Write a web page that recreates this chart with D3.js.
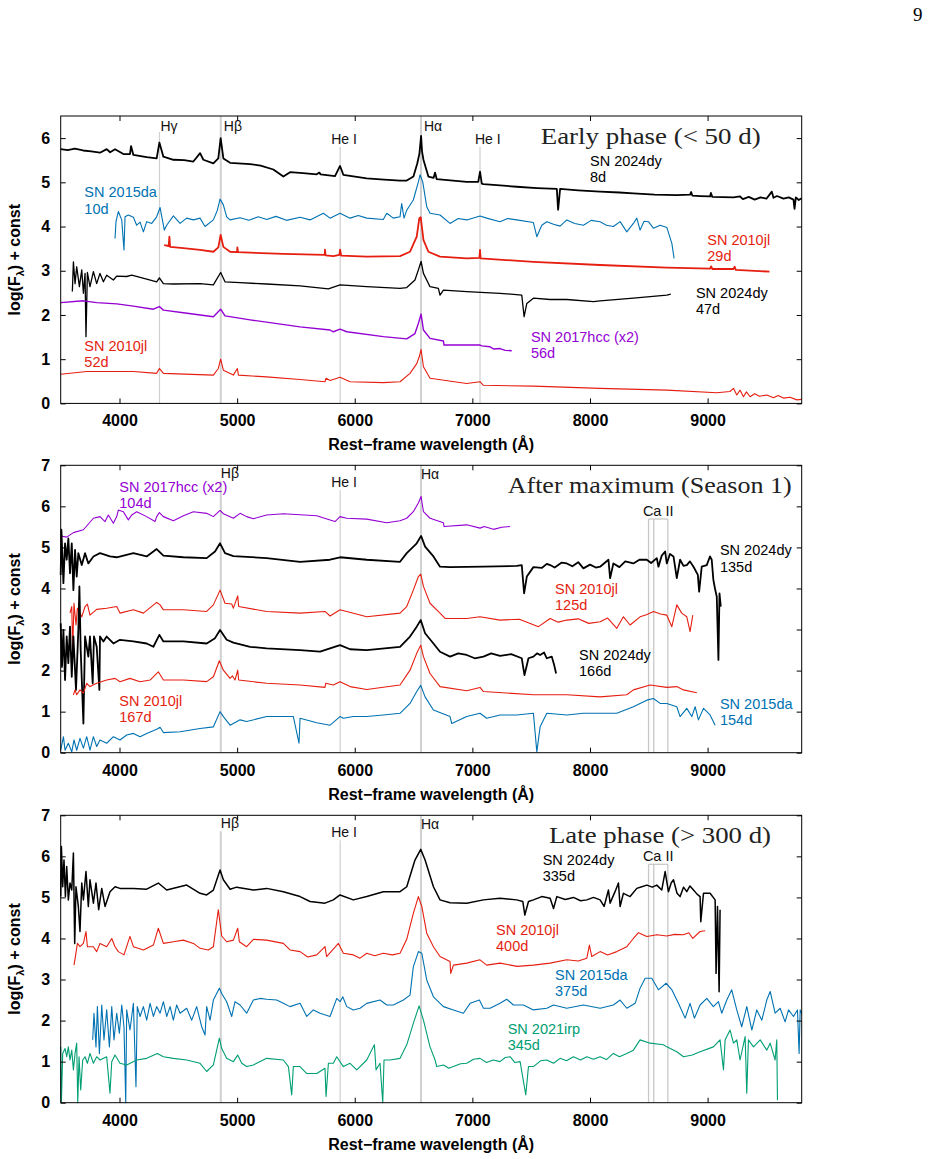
<!DOCTYPE html>
<html>
<head>
<meta charset="utf-8">
<script src="https://cdn.jsdelivr.net/npm/d3@7"></script>
<style>
  body { margin: 0; background: #fff; }
  svg { display: block; }
</style>
</head>
<body>
<script>
// ---- axis / label data ----
const waveTicks = [4000, 5000, 6000, 7000, 8000, 9000];
const yTicksEarly = [0, 1, 2, 3, 4, 5, 6];
const yTicksLater = [0, 1, 2, 3, 4, 5, 6, 7];
const panelTitles = ['Early phase (< 50 d)', 'After maximum (Season 1)', 'Late phase (> 300 d)'];
const lineWaves = [4340, 4861, 5876, 6563, 7065];
const lineNames = ['Hγ', 'Hβ', 'He I', 'Hα', 'He I'];
const caWaves = [8498, 8542, 8662];

// ---- spectra, [wavelength (A), log flux + const] ----
// early phase
const dy8 = [[3500,5.75],[3560,5.73],[3620,5.76],[3690,5.72],[3760,5.70],[3834,5.67],[3891,5.75],[3920,5.68],[3962,5.75],[4033,5.64],[4089,5.64],[4098,5.82],[4118,5.62],[4231,5.57],[4316,5.54],[4339,5.90],[4373,5.58],[4458,5.51],[4550,5.50],[4628,5.47],[4685,5.66],[4713,5.51],[4798,5.43],[4840,5.54],[4860,6.0],[4883,5.54],[4940,5.44],[5110,5.41],[5200,5.38],[5308,5.29],[5393,5.13],[5450,5.23],[5560,5.21],[5677,5.18],[5699,5.22],[5710,5.18],[5832,5.14],[5875,5.37],[5903,5.17],[6102,5.09],[6250,5.06],[6385,5.04],[6442,5.04],[6499,5.13],[6532,5.43],[6550,5.65],[6564,6.05],[6572,5.70],[6584,5.51],[6626,5.13],[6670,5.10],[6683,5.22],[6697,5.07],[6952,5.01],[7050,5.01],[7065,5.24],[7080,4.97],[7094,4.96],[7377,4.90],[7550,4.87],[7718,4.85],[7729,4.38],[7746,4.85],[7900,4.82],[8086,4.79],[8250,4.77],[8369,4.75],[8550,4.72],[8738,4.71],[8851,4.72],[8860,4.78],[8870,4.70],[8936,4.69],[9021,4.68],[9028,4.76],[9040,4.67],[9220,4.66],[9276,4.68],[9300,4.62],[9350,4.67],[9400,4.61],[9450,4.66],[9500,4.63],[9546,4.79],[9560,4.65],[9590,4.69],[9645,4.63],[9690,4.66],[9730,4.61],[9739,4.40],[9750,4.66],[9775,4.60],[9800,4.64]];
const da10 = [[3962,3.73],[3970,4.11],[3990,4.34],[4019,4.15],[4038,3.47],[4047,4.22],[4075,4.26],[4118,4.21],[4146,4.03],[4175,4.10],[4203,3.88],[4231,4.11],[4274,4.07],[4316,4.22],[4345,4.43],[4381,3.92],[4401,4.03],[4458,4.24],[4515,4.07],[4571,4.19],[4628,4.15],[4685,4.19],[4727,4.00],[4798,4.15],[4832,4.37],[4855,4.62],[4883,4.49],[4911,4.22],[4940,4.15],[5025,4.20],[5100,4.14],[5180,4.22],[5251,4.16],[5330,4.23],[5420,4.14],[5535,4.21],[5620,4.15],[5733,4.30],[5790,4.19],[5875,4.30],[5960,4.19],[6030,4.25],[6102,4.19],[6243,4.16],[6272,4.30],[6328,4.19],[6385,4.22],[6399,4.52],[6419,4.19],[6442,4.37],[6498,4.60],[6541,5.01],[6555,5.17],[6578,5.01],[6612,4.45],[6640,4.30],[6725,4.26],[6810,4.07],[6880,4.18],[6952,4.15],[7065,4.24],[7122,4.19],[7235,4.11],[7300,4.18],[7377,4.15],[7519,4.09],[7548,3.77],[7590,4.03],[7633,4.11],[7690,4.05],[7746,4.01],[7803,4.15],[7870,4.07],[7944,4.03],[8010,4.14],[8086,4.11],[8140,4.03],[8199,4.00],[8256,4.11],[8313,3.88],[8369,4.07],[8398,4.19],[8426,3.92],[8460,4.12],[8497,4.11],[8540,3.96],[8596,4.03],[8653,3.98],[8696,3.62],[8715,3.28]];
const jl29 = [[4380,3.58],[4418,3.56],[4424,3.77],[4430,3.54],[4543,3.51],[4685,3.47],[4798,3.43],[4840,3.53],[4860,3.81],[4883,3.54],[4940,3.43],[5000,3.42],[5002,3.53],[5008,3.42],[5110,3.41],[5393,3.38],[5745,3.36],[5747,3.48],[5752,3.35],[5818,3.33],[5870,3.36],[5875,3.48],[5885,3.34],[6102,3.32],[6385,3.33],[6470,3.43],[6527,3.77],[6549,4.19],[6561,4.21],[6584,3.70],[6626,3.43],[6725,3.32],[6952,3.28],[7060,3.29],[7065,3.47],[7070,3.28],[7519,3.20],[8086,3.13],[8653,3.07],[9021,3.05],[9030,3.10],[9040,3.04],[9220,3.04],[9230,3.09],[9240,3.02],[9526,2.98]];
const dy47 = [[3599,2.53],[3608,3.20],[3622,2.71],[3636,3.09],[3659,2.64],[3679,3.02],[3693,2.49],[3707,2.94],[3715,1.51],[3727,2.96],[3749,2.64],[3778,2.98],[3806,2.71],[3834,2.94],[3863,2.75],[3891,2.90],[3948,2.79],[3976,2.88],[4061,2.87],[4104,2.90],[4231,2.81],[4316,2.75],[4339,2.84],[4373,2.71],[4458,2.70],[4685,2.71],[4798,2.68],[4860,2.96],[4897,2.75],[5025,2.73],[5251,2.70],[5535,2.66],[5776,2.59],[5875,2.68],[6102,2.64],[6385,2.60],[6442,2.62],[6512,2.79],[6541,3.02],[6564,3.21],[6584,2.94],[6640,2.64],[6711,2.60],[6725,2.45],[6754,2.56],[6952,2.53],[7235,2.49],[7420,2.45],[7440,1.96],[7463,2.26],[7519,2.38],[7661,2.35],[7803,2.35],[8029,2.30],[8086,2.32],[8369,2.38],[8653,2.45],[8687,2.47]];
const hcc56 = [[3500,2.28],[3693,2.32],[3806,2.28],[3976,2.25],[4118,2.20],[4288,2.13],[4339,2.19],[4373,2.11],[4543,2.05],[4798,1.96],[4860,2.13],[4897,1.98],[5110,1.89],[5535,1.73],[5790,1.66],[5818,1.62],[5875,1.68],[5932,1.62],[6243,1.51],[6442,1.46],[6512,1.58],[6541,1.81],[6564,2.02],[6584,1.66],[6640,1.47],[6754,1.41],[6759,1.32],[6952,1.32],[7065,1.32],[7080,1.30],[7150,1.28],[7180,1.23],[7235,1.24],[7280,1.20],[7335,1.19]];
const jl52 = [[3500,0.66],[3721,0.72],[3834,0.72],[4118,0.72],[4316,0.68],[4339,0.79],[4373,0.68],[4798,0.64],[4840,0.79],[4860,1.00],[4883,0.75],[4968,0.64],[5002,0.79],[5011,0.64],[5251,0.60],[5535,0.54],[5747,0.49],[5756,0.57],[5790,0.52],[5875,0.59],[5960,0.49],[6243,0.47],[6385,0.49],[6470,0.68],[6527,0.90],[6549,1.06],[6564,1.22],[6584,0.83],[6640,0.57],[6952,0.45],[7065,0.49],[7094,0.41],[7519,0.39],[8086,0.34],[8653,0.30],[9078,0.24],[9190,0.27],[9220,0.34],[9248,0.19],[9276,0.30],[9305,0.15],[9330,0.26],[9361,0.15],[9400,0.22],[9440,0.16],[9503,0.19],[9560,0.13],[9600,0.18],[9645,0.12],[9700,0.14],[9760,0.08],[9800,0.09]];

// after maximum
const hcc104 = [[3500,5.28],[3551,5.25],[3608,5.36],[3693,5.43],[3778,5.71],[3834,5.75],[3877,5.63],[3905,5.79],[3948,5.59],[3976,5.75],[3990,5.91],[4033,5.87],[4075,5.67],[4104,5.79],[4146,5.87],[4231,5.75],[4302,5.63],[4316,5.75],[4339,5.85],[4373,5.75],[4458,5.65],[4543,5.77],[4628,5.87],[4741,5.83],[4798,5.75],[4855,5.90],[4883,5.82],[4968,5.71],[5025,5.83],[5081,5.75],[5138,5.70],[5251,5.79],[5393,5.82],[5677,5.77],[5790,5.67],[5832,5.63],[5875,5.75],[5932,5.71],[6102,5.69],[6272,5.60],[6385,5.65],[6442,5.71],[6498,5.87],[6541,6.08],[6564,6.24],[6584,5.87],[6640,5.71],[6754,5.60],[6759,5.51],[6952,5.55],[7065,5.47],[7100,5.51],[7179,5.44],[7250,5.49],[7321,5.51]];
const dy135 = [[3500,4.33],[3506,5.43],[3523,4.13],[3537,5.10],[3551,4.70],[3565,5.22],[3579,4.37],[3594,5.10],[3608,3.96],[3622,4.94],[3636,4.29],[3650,4.86],[3679,4.57],[3707,4.86],[3735,4.61],[3778,4.78],[3834,4.86],[3919,4.78],[3976,4.76],[4118,4.86],[4231,4.78],[4316,4.96],[4373,4.80],[4543,4.76],[4741,4.74],[4812,4.90],[4855,5.10],[4897,4.86],[4968,4.79],[5251,4.74],[5535,4.65],[5790,4.70],[5875,4.76],[6102,4.70],[6385,4.65],[6442,4.86],[6527,5.10],[6564,5.28],[6598,5.02],[6669,4.78],[6725,4.53],[6810,4.52],[7094,4.53],[7377,4.55],[7420,4.57],[7440,3.88],[7463,4.29],[7519,4.52],[7590,4.50],[7633,4.60],[7661,4.57],[7700,4.51],[7760,4.63],[7803,4.61],[7850,4.54],[7900,4.64],[7944,4.49],[8000,4.58],[8050,4.51],[8086,4.53],[8157,4.70],[8171,4.25],[8199,4.61],[8250,4.52],[8300,4.66],[8369,4.61],[8420,4.70],[8483,4.70],[8520,4.62],[8568,4.74],[8582,4.53],[8610,4.80],[8639,4.90],[8653,4.61],[8680,4.84],[8710,4.78],[8738,4.25],[8766,4.70],[8795,4.55],[8823,4.57],[8850,4.66],[8880,4.53],[8917,4.33],[8928,3.92],[8950,4.53],[8993,4.57],[9020,4.78],[9035,4.70],[9049,4.21],[9064,3.98],[9078,3.80],[9092,2.26],[9101,3.88],[9112,3.56]];
const jl125 = [[3579,3.40],[3594,3.56],[3602,2.50],[3613,3.64],[3630,3.11],[3642,3.52],[3679,3.31],[3707,3.56],[3727,3.62],[3749,3.35],[3806,3.49],[3891,3.52],[3976,3.56],[4004,3.40],[4118,3.48],[4203,3.40],[4316,3.66],[4345,3.60],[4373,3.48],[4543,3.48],[4741,3.44],[4798,3.60],[4855,3.96],[4897,3.64],[4954,3.62],[4968,3.52],[5005,3.82],[5013,3.56],[5251,3.44],[5535,3.40],[5747,3.44],[5790,3.33],[5875,3.48],[6102,3.31],[6385,3.40],[6442,3.56],[6498,3.96],[6541,4.29],[6561,4.35],[6584,4.05],[6640,3.64],[6725,3.40],[6768,3.27],[6952,3.27],[7065,3.31],[7235,3.23],[7400,3.25],[7562,3.07],[7661,3.27],[7730,3.18],[7803,3.23],[7900,3.26],[7990,3.15],[8086,3.19],[8150,3.28],[8228,3.03],[8284,3.31],[8341,3.11],[8426,3.31],[8480,3.36],[8540,3.44],[8600,3.38],[8653,3.35],[8696,3.07],[8738,3.60],[8780,3.40],[8823,3.31],[8851,2.95],[8874,3.35]];
const dy166 = [[3500,3.15],[3511,2.09],[3523,2.99],[3537,1.77],[3551,2.83],[3565,2.18],[3579,3.07],[3594,1.85],[3608,2.83],[3630,1.53],[3650,2.99],[3659,4.05],[3670,2.50],[3693,0.71],[3707,2.83],[3735,2.34],[3749,2.83],[3772,1.69],[3783,2.83],[3806,2.58],[3829,1.53],[3834,2.83],[3863,2.71],[3891,2.83],[3948,2.66],[4004,2.75],[4118,2.71],[4231,2.66],[4288,2.58],[4339,2.87],[4373,2.71],[4543,2.71],[4741,2.66],[4812,2.79],[4855,2.99],[4911,2.75],[4968,2.68],[5110,2.58],[5251,2.54],[5535,2.50],[5705,2.46],[5875,2.62],[5960,2.52],[6102,2.50],[6385,2.58],[6470,2.83],[6527,3.07],[6561,3.23],[6598,2.91],[6669,2.66],[6725,2.46],[6810,2.34],[6880,2.42],[6952,2.38],[7020,2.30],[7094,2.34],[7160,2.42],[7235,2.36],[7330,2.40],[7420,2.30],[7443,1.89],[7477,2.30],[7519,2.34],[7550,2.42],[7576,2.38],[7610,2.44],[7633,2.30],[7675,2.34],[7695,2.14],[7712,1.93]];
const jl167 = [[3608,1.41],[3622,1.53],[3636,1.41],[3664,1.53],[3693,1.45],[3721,1.69],[3749,1.61],[3806,1.69],[3891,1.77],[3962,1.81],[4004,1.73],[4089,1.81],[4175,1.73],[4260,1.77],[4330,1.97],[4373,1.77],[4543,1.77],[4741,1.73],[4798,1.85],[4849,2.24],[4883,2.01],[4940,1.81],[4960,1.87],[4982,1.77],[5005,2.01],[5013,1.77],[5251,1.69],[5535,1.65],[5747,1.59],[5753,1.69],[5818,1.65],[5875,1.73],[5960,1.61],[6102,1.54],[6385,1.65],[6470,2.01],[6527,2.42],[6561,2.62],[6584,2.34],[6640,1.93],[6725,1.61],[6952,1.51],[7065,1.59],[7094,1.49],[7519,1.41],[7803,1.41],[8086,1.36],[8313,1.41],[8369,1.53],[8511,1.65],[8653,1.59],[8738,1.61],[8795,1.53],[8908,1.46]];
const da154 = [[3500,0.06],[3523,0.39],[3537,0.06],[3565,0.23],[3594,0.02],[3613,0.31],[3636,0.06],[3664,0.35],[3693,0.11],[3721,0.39],[3749,0.06],[3778,0.39],[3806,0.15],[3834,0.31],[3891,0.23],[3948,0.39],[4004,0.31],[4061,0.43],[4118,0.47],[4175,0.39],[4231,0.47],[4316,0.57],[4345,0.62],[4373,0.49],[4515,0.51],[4685,0.59],[4798,0.63],[4855,1.00],[4883,0.88],[4940,0.67],[5025,0.80],[5081,0.76],[5251,0.88],[5478,0.88],[5526,0.23],[5535,0.84],[5677,0.73],[5790,0.67],[5875,0.88],[5903,0.84],[5988,0.88],[6102,0.88],[6243,0.92],[6385,0.96],[6470,1.20],[6527,1.49],[6561,1.64],[6598,1.36],[6669,1.04],[6810,0.88],[6825,0.71],[6952,0.88],[7065,0.96],[7122,0.84],[7235,0.92],[7377,0.92],[7519,0.96],[7548,0.02],[7576,0.63],[7633,0.96],[7803,0.92],[7944,0.96],[8086,0.96],[8228,0.96],[8369,1.12],[8483,1.28],[8540,1.32],[8596,1.20],[8653,1.20],[8738,1.12],[8766,0.88],[8823,1.08],[8866,0.88],[8894,1.12],[8922,0.80],[8965,1.08],[9021,0.92],[9064,0.67]];

// late phase
const dy335 = [[3500,5.02],[3506,6.24],[3517,5.26],[3528,5.91],[3540,5.02],[3551,5.75],[3565,4.94],[3579,5.35],[3594,5.18],[3608,6.08],[3619,3.88],[3630,5.26],[3650,4.78],[3664,4.17],[3679,5.35],[3693,4.94],[3715,5.63],[3735,4.78],[3749,5.43],[3778,4.86],[3800,5.35],[3823,4.70],[3849,5.22],[3877,4.78],[3919,5.14],[3962,5.26],[4004,5.22],[4118,5.22],[4231,5.20],[4330,5.35],[4401,5.18],[4571,5.30],[4685,5.10],[4741,5.06],[4798,5.18],[4855,5.67],[4883,5.43],[4940,5.20],[4996,5.25],[5138,5.18],[5251,5.22],[5393,5.14],[5535,5.02],[5620,4.90],[5747,4.86],[5818,4.94],[5875,5.06],[5988,4.94],[6102,5.02],[6243,5.14],[6385,5.14],[6442,5.26],[6512,5.91],[6561,6.17],[6598,5.91],[6669,5.26],[6725,4.94],[6810,4.87],[6952,4.86],[7094,4.94],[7235,4.98],[7377,4.94],[7429,4.90],[7446,4.57],[7477,4.90],[7519,4.94],[7590,5.02],[7661,4.98],[7690,4.73],[7718,5.02],[7790,4.95],[7859,5.00],[7920,4.92],[7973,4.94],[8030,5.00],[8086,4.94],[8120,4.78],[8157,5.18],[8171,4.86],[8213,5.14],[8242,5.35],[8256,4.78],[8284,5.10],[8341,5.02],[8398,5.22],[8440,5.26],[8483,5.30],[8530,5.25],[8568,5.30],[8610,5.18],[8639,5.63],[8667,5.14],[8690,5.35],[8710,5.43],[8740,5.10],[8766,5.02],[8795,5.25],[8823,5.14],[8850,5.28],[8880,5.18],[8910,5.08],[8936,5.02],[8942,4.41],[8965,5.10],[9021,5.10],[9064,4.94],[9072,3.15],[9084,4.78],[9098,2.70],[9106,4.70]];
const jl400 = [[3613,3.35],[3625,3.56],[3642,3.88],[3664,3.80],[3693,3.88],[3715,4.17],[3727,3.80],[3778,3.80],[3806,3.68],[3834,3.88],[3891,3.80],[3934,4.00],[3962,3.80],[3990,3.68],[4038,3.60],[4089,4.05],[4118,3.80],[4203,3.72],[4288,3.84],[4330,4.25],[4373,3.88],[4458,3.92],[4543,3.96],[4628,3.88],[4685,3.76],[4755,3.72],[4798,3.80],[4840,4.70],[4869,4.06],[4911,3.92],[4968,3.96],[5005,4.25],[5019,3.92],[5081,3.80],[5138,3.98],[5251,3.96],[5393,3.88],[5450,3.72],[5535,3.68],[5600,3.55],[5677,3.60],[5747,3.80],[5761,3.56],[5861,3.88],[5903,3.64],[5988,3.60],[6045,3.52],[6102,3.64],[6170,3.58],[6243,3.64],[6320,3.60],[6385,3.64],[6442,3.98],[6498,4.61],[6541,5.02],[6570,4.78],[6612,4.13],[6669,3.80],[6725,3.56],[6810,3.44],[6816,3.15],[6839,3.35],[6952,3.40],[7065,3.48],[7122,3.35],[7235,3.40],[7380,3.32],[7519,3.35],[7661,3.40],[7803,3.48],[7900,3.45],[7973,3.52],[7995,3.84],[8015,3.56],[8086,3.68],[8150,3.60],[8228,3.68],[8313,3.80],[8369,4.00],[8412,4.14],[8483,4.05],[8570,4.09],[8653,4.06],[8720,4.10],[8795,4.09],[8840,4.14],[8874,4.00],[8936,4.17],[8979,4.19]];
const da375 = [[3772,1.53],[3783,2.18],[3800,1.36],[3812,2.34],[3829,1.20],[3849,2.38],[3868,1.53],[3891,2.26],[3914,1.36],[3934,2.34],[3953,1.53],[3976,2.18],[3999,1.69],[4019,2.38],[4038,1.85],[4053,0.00],[4061,2.26],[4089,1.77],[4118,2.42],[4140,0.39],[4151,2.34],[4175,2.10],[4203,2.34],[4231,2.01],[4260,2.42],[4288,2.10],[4316,2.34],[4345,2.18],[4373,2.46],[4401,2.10],[4430,2.34],[4458,2.01],[4486,2.38],[4515,2.18],[4571,2.30],[4614,2.01],[4656,2.34],[4699,1.85],[4727,1.65],[4741,2.34],[4770,2.01],[4798,2.50],[4826,2.66],[4849,2.79],[4869,2.66],[4911,2.46],[4954,2.10],[4982,2.46],[5025,2.38],[5081,2.18],[5138,2.50],[5195,2.54],[5251,2.52],[5336,2.50],[5393,2.42],[5450,2.34],[5535,2.42],[5592,2.10],[5648,2.26],[5705,2.18],[5790,2.10],[5847,2.54],[5875,2.46],[5898,2.58],[5932,2.34],[5988,2.26],[6045,2.30],[6102,2.42],[6215,2.50],[6272,2.38],[6328,2.38],[6414,2.50],[6470,2.62],[6498,3.31],[6541,3.68],[6570,3.64],[6612,2.99],[6669,2.58],[6754,2.34],[6839,2.26],[6924,2.18],[6981,2.42],[7060,2.50],[7094,2.30],[7151,2.30],[7235,2.42],[7292,2.52],[7349,2.38],[7434,2.38],[7519,2.26],[7633,2.30],[7690,2.38],[7803,2.30],[7944,2.38],[8086,2.30],[8199,2.38],[8256,2.50],[8313,2.30],[8384,2.42],[8426,2.79],[8469,3.03],[8525,3.03],[8582,2.75],[8647,2.91],[8696,2.75],[8752,2.42],[8809,2.06],[8851,2.42],[8888,2.06],[8936,2.38],[8993,2.54],[9049,2.34],[9092,2.46],[9120,2.18],[9163,2.50],[9205,2.75],[9248,2.26],[9290,1.85],[9333,2.34],[9376,1.77],[9418,2.26],[9461,2.01],[9503,2.50],[9532,2.71],[9574,2.18],[9617,2.30],[9659,1.97],[9688,2.26],[9730,2.10],[9764,2.26],[9778,1.20],[9787,2.26],[9800,2.18]];
const irp345 = [[3500,1.36],[3506,0.02],[3517,1.20],[3537,1.32],[3551,1.12],[3565,1.36],[3579,1.04],[3594,1.28],[3608,0.80],[3622,1.20],[3636,1.45],[3645,0.00],[3656,1.12],[3670,0.31],[3687,1.04],[3707,1.12],[3727,0.96],[3749,1.20],[3778,0.96],[3806,1.12],[3834,1.04],[3891,1.12],[3919,0.23],[3934,1.00],[3962,1.16],[4004,0.96],[4061,0.92],[4146,1.04],[4231,1.08],[4322,1.20],[4373,1.12],[4458,1.08],[4571,1.04],[4685,0.96],[4741,0.76],[4798,0.92],[4849,1.57],[4869,1.32],[4911,1.08],[4968,1.00],[5005,1.16],[5039,0.96],[5081,0.88],[5138,0.92],[5251,1.08],[5393,1.04],[5436,0.88],[5464,0.19],[5478,0.88],[5535,0.88],[5592,0.71],[5677,0.71],[5747,0.84],[5756,0.15],[5776,0.96],[5818,0.96],[5847,1.12],[5903,0.88],[5960,0.96],[6017,0.80],[6102,1.04],[6167,1.41],[6181,0.80],[6215,0.96],[6238,0.00],[6249,1.04],[6300,1.04],[6385,1.08],[6442,1.41],[6498,1.93],[6547,2.36],[6584,2.01],[6640,1.36],[6683,1.04],[6697,0.88],[6754,0.92],[6800,0.84],[6839,0.88],[6900,0.95],[6952,0.96],[7010,1.06],[7065,1.08],[7120,0.98],[7179,1.04],[7235,1.00],[7280,1.10],[7321,1.12],[7360,0.98],[7406,1.00],[7454,0.19],[7477,0.88],[7519,0.88],[7580,1.02],[7633,1.04],[7690,0.96],[7746,1.08],[7800,1.02],[7859,1.12],[7920,1.04],[7973,1.12],[8030,1.06],[8086,1.12],[8140,1.05],[8199,1.20],[8250,1.12],[8313,1.20],[8369,1.28],[8426,1.53],[8511,1.45],[8624,1.41],[8653,1.36],[8738,1.24],[8795,1.12],[8870,1.16],[8936,1.24],[9049,1.36],[9106,1.53],[9135,0.80],[9149,1.53],[9191,1.77],[9220,1.45],[9248,1.53],[9276,1.04],[9319,1.61],[9333,0.23],[9347,1.53],[9390,1.36],[9447,1.53],[9503,1.28],[9532,1.45],[9574,1.04],[9588,1.53],[9594,0.06]];

// ---- styling ----
const BLACK = '#000000', RED = '#e51e10', BLUE = '#0072b2', PURPLE = '#9400d3', GREEN = '#009e73';
const SANS = 'Liberation Sans, Arial, Helvetica, sans-serif';
const SERIF = 'Liberation Serif, Times New Roman, serif';
const GREY = '#d0d0d0';

const W = 928, H = 1159;
const left = 60.7, right = 801.7, panelH = 287.4;

const svg = d3.select('body').append('svg')
  .attr('width', W)
  .attr('height', H)
  .style('background', '#fff');

const x = d3.scaleLinear().domain([3500, 9800]).range([left, right]);

// page number
svg.append('text')
  .attr('x', 913).attr('y', 20.7)
  .attr('font-family', SERIF).attr('font-size', 19)
  .text('9');

// ref line layout: [index into lineWaves, label dx, label baseline offset, line top offset, stroke width]
const panels = [
  {
    top: 116, ymax: 6.5, yTicks: yTicksEarly, title: panelTitles[0], titleX: 540.7, titleLen: 220,
    refs: [[0, 1, 15, 16, 1.2], [1, 3, 15, 0, 2], [2, -9, 27.5, 31, 1.2], [3, 3, 15, 0, 2], [4, -5, 27.5, 31, 1.2]],
    ca: null,
    series: [
      {data: dy8, color: BLACK, w: 1.8, label: ['SN 2024dy', '8d'], at: [8000, 5.37]},
      {data: da10, color: BLUE, w: 1.1, label: ['SN 2015da', '10d'], at: [3701, 4.66]},
      {data: jl29, color: RED, w: 1.8, label: ['SN 2010jl', '29d'], at: [8997, 3.58]},
      {data: dy47, color: BLACK, w: 1.3, label: ['SN 2024dy', '47d'], at: [8901, 2.38]},
      {data: hcc56, color: PURPLE, w: 1.4, label: ['SN 2017hcc (x2)', '56d'], at: [7498, 1.39]},
      {data: jl52, color: RED, w: 1.1, label: ['SN 2010jl', '52d'], at: [3701, 1.19]}
    ]
  },
  {
    top: 465.3, ymax: 7, yTicks: yTicksLater, title: panelTitles[1], titleX: 507.7, titleLen: 284,
    refs: [[1, 0, 13, 16, 2], [2, -9, 21.5, 25, 1.2], [3, 0, 13.5, 0, 2]],
    ca: {labelY: 50.4, boxY: 53.7},
    series: [
      {data: hcc104, color: PURPLE, w: 1.1, label: ['SN 2017hcc (x2)', '104d'], at: [3998, 6.36]},
      {data: dy135, color: BLACK, w: 1.8, label: ['SN 2024dy', '135d'], at: [9105, 4.81]},
      {data: jl125, color: RED, w: 1.1, label: ['SN 2010jl', '125d'], at: [7703, 3.87]},
      {data: dy166, color: BLACK, w: 1.8, label: ['SN 2024dy', '166d'], at: [7907, 2.26]},
      {data: jl167, color: RED, w: 1.1, label: ['SN 2010jl', '167d'], at: [3998, 1.14]},
      {data: da154, color: BLUE, w: 1.1, label: ['SN 2015da', '154d'], at: [9105, 1.06]}
    ]
  },
  {
    top: 815.3, ymax: 7, yTicks: yTicksLater, title: panelTitles[2], titleX: 549, titleLen: 222,
    refs: [[1, 0, 13, 16, 2], [2, -9, 21.5, 25, 1.2], [3, 0, 13.5, 0, 2]],
    ca: {labelY: 45.7, boxY: 49},
    series: [
      {data: dy335, color: BLACK, w: 1.5, label: ['SN 2024dy', '335d'], at: [7598, 5.79]},
      {data: jl400, color: RED, w: 1.1, label: ['SN 2010jl', '400d'], at: [7201, 4.08]},
      {data: da375, color: BLUE, w: 1.1, label: ['SN 2015da', '375d'], at: [7703, 2.99]},
      {data: irp345, color: GREEN, w: 1.1, label: ['SN 2021irp', '345d'], at: [7300, 1.67]}
    ]
  }
];

panels.forEach(function(p) {
  const bottom = p.top + panelH;
  const y = d3.scaleLinear().domain([0, p.ymax]).range([bottom, p.top]);
  const g = svg.append('g');

  // reference lines (behind spectra)
  p.refs.forEach(function(r) {
    const wv = lineWaves[r[0]];
    g.append('line')
      .attr('x1', x(wv)).attr('x2', x(wv))
      .attr('y1', p.top + r[3]).attr('y2', bottom)
      .attr('stroke', GREY).attr('stroke-width', r[4]);
    g.append('text')
      .attr('x', x(wv) + r[1]).attr('y', p.top + r[2])
      .attr('font-family', SANS).attr('font-size', 14)
      .attr('fill', '#111')
      .text(lineNames[r[0]]);
  });

  if (p.ca) {
    const by = p.top + p.ca.boxY;
    caWaves.forEach(function(wv) {
      g.append('line')
        .attr('x1', x(wv)).attr('x2', x(wv))
        .attr('y1', by).attr('y2', bottom)
        .attr('stroke', '#c8c8c8').attr('stroke-width', 1.3);
    });
    g.append('line')
      .attr('x1', x(caWaves[0])).attr('x2', x(caWaves[2]))
      .attr('y1', by).attr('y2', by)
      .attr('stroke', '#c8c8c8').attr('stroke-width', 1.3);
    g.append('text')
      .attr('x', x((caWaves[0] + caWaves[2]) / 2)).attr('y', p.top + p.ca.labelY)
      .attr('text-anchor', 'middle')
      .attr('font-family', SANS).attr('font-size', 14.5)
      .attr('fill', '#111')
      .text('Ca II');
  }

  // spectra
  const line = d3.line().x(d => x(d[0])).y(d => y(d[1]));
  p.series.forEach(function(s) {
    g.append('path')
      .datum(s.data)
      .attr('d', line)
      .attr('fill', 'none')
      .attr('stroke', s.color)
      .attr('stroke-width', s.w)
      .attr('stroke-linejoin', 'round');
    const t = g.append('text')
      .attr('font-family', SANS).attr('font-size', 14.5)
      .attr('fill', s.color);
    s.label.forEach(function(txt, i) {
      t.append('tspan')
        .attr('x', x(s.at[0]))
        .attr('y', y(s.at[1]) + i * 16.3)
        .text(txt);
    });
  });

  // axes: inward ticks on all four sides
  const xb = g.append('g').attr('transform', 'translate(0,' + bottom + ')')
    .call(d3.axisBottom(x).tickValues(waveTicks).tickSizeInner(-5).tickSizeOuter(0).tickPadding(11.6).tickFormat(d3.format('d')));
  const xt = g.append('g').attr('transform', 'translate(0,' + p.top + ')')
    .call(d3.axisTop(x).tickValues(waveTicks).tickSizeInner(-5).tickSizeOuter(0).tickFormat(''));
  const yl = g.append('g').attr('transform', 'translate(' + left + ',0)')
    .call(d3.axisLeft(y).tickValues(p.yTicks).tickSizeInner(-5).tickSizeOuter(0).tickPadding(10.5).tickFormat(d3.format('d')));
  const yr = g.append('g').attr('transform', 'translate(' + right + ',0)')
    .call(d3.axisRight(y).tickValues(p.yTicks).tickSizeInner(-5).tickSizeOuter(0).tickFormat(''));
  [xb, xt, yl, yr].forEach(function(a) {
    a.select('.domain').remove();
    a.selectAll('line').attr('stroke', '#000').attr('stroke-width', 1);
    a.selectAll('text')
      .attr('font-family', SANS).attr('font-size', 16).attr('font-weight', 'bold').attr('fill', '#000');
  });

  // frame
  g.append('rect')
    .attr('x', left).attr('y', p.top)
    .attr('width', right - left).attr('height', panelH)
    .attr('fill', 'none').attr('stroke', '#000').attr('stroke-width', 1);

  // title
  g.append('text')
    .attr('x', p.titleX).attr('y', p.top + 28)
    .attr('font-family', SERIF).attr('font-size', 23)
    .attr('textLength', p.titleLen).attr('lengthAdjust', 'spacingAndGlyphs')
    .attr('fill', '#222')
    .text(p.title);

  // axis titles
  g.append('text')
    .attr('x', (left + right) / 2).attr('y', bottom + 47)
    .attr('text-anchor', 'middle')
    .attr('font-family', SANS).attr('font-size', 16).attr('font-weight', 'bold')
    .text('Rest\u2212frame wavelength (\u00c5)');

  const yt = g.append('text')
    .attr('transform', 'translate(20,' + (p.top + panelH / 2) + ') rotate(-90)')
    .attr('text-anchor', 'middle')
    .attr('font-family', SANS).attr('font-size', 16).attr('font-weight', 'bold');
  yt.append('tspan').text('log(F');
  yt.append('tspan').attr('font-size', 11).attr('dy', 4).text('\u03bb');
  yt.append('tspan').attr('dy', -4).text(') + const');
});
</script>
</body>
</html>
